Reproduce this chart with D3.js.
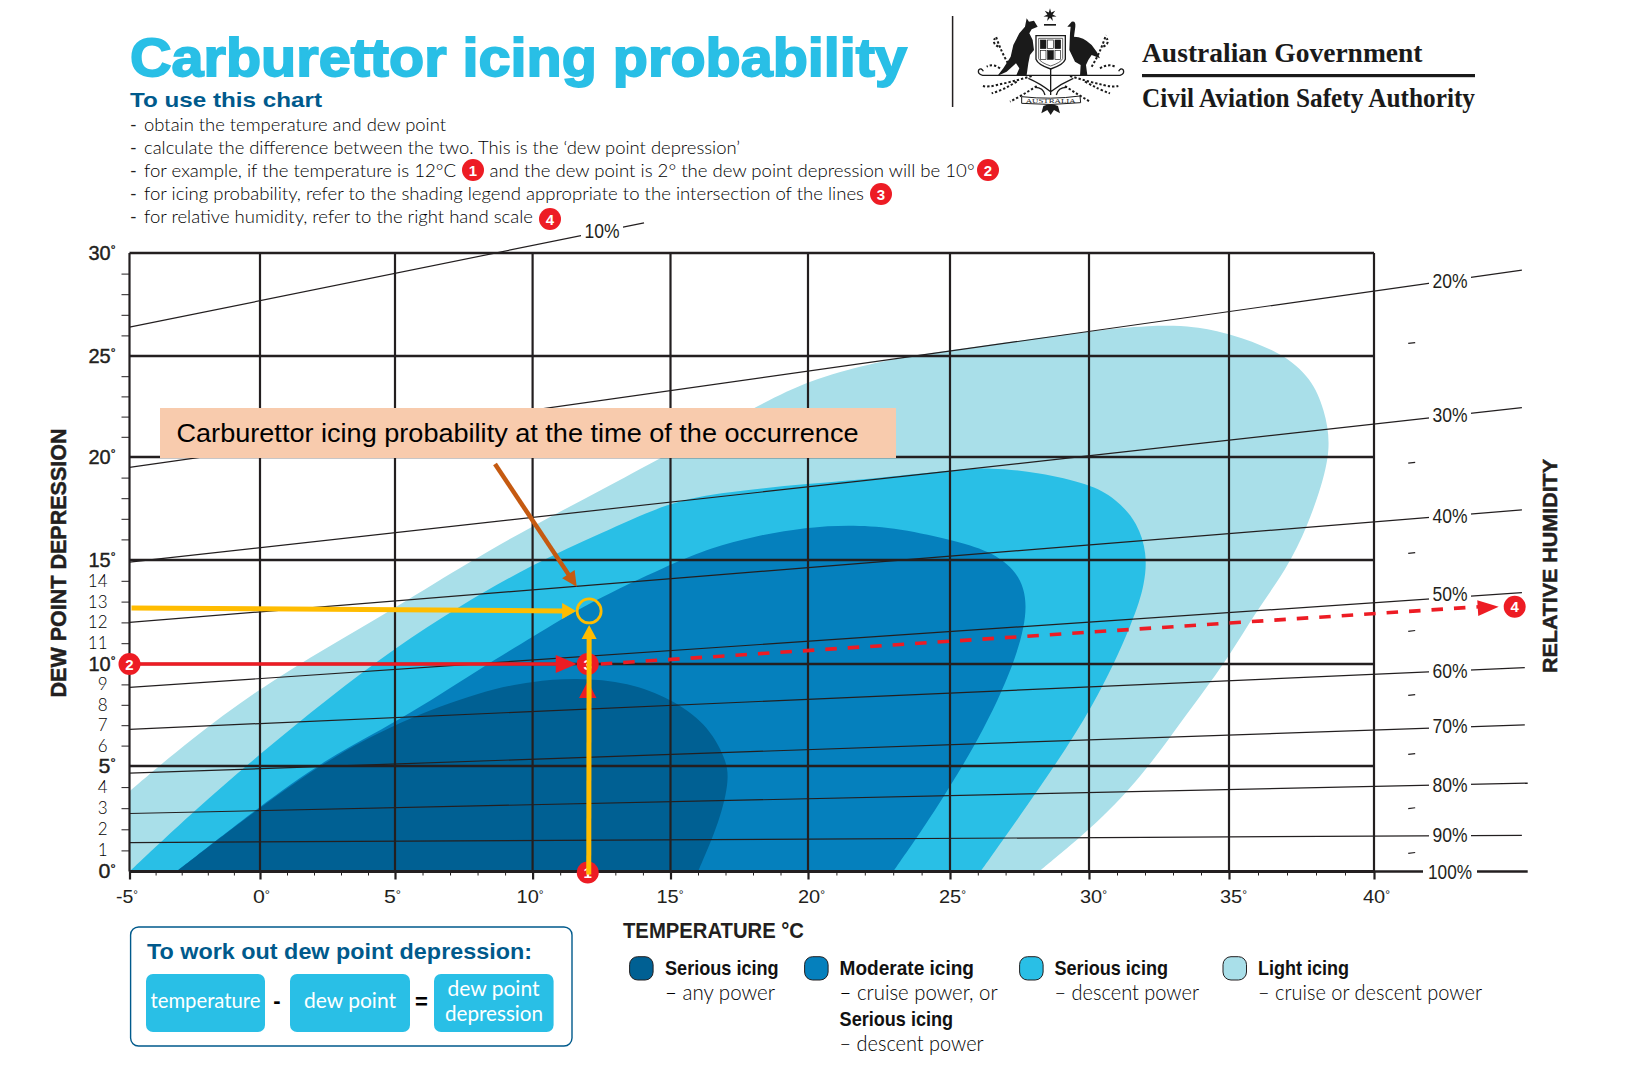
<!DOCTYPE html>
<html>
<head>
<meta charset="utf-8">
<title>Carburettor icing probability</title>
<script src="https://cdn.jsdelivr.net/npm/d3@7"></script>
<style>
  html, body { margin: 0; padding: 0; background: #fff; }
  svg { display: block; }
</style>
</head>
<body>
<div id="chart"></div>
<script>
// Grid values (the printed grid is not quite even, so the scales are piecewise)
const tempMajor = [-5, 0, 5, 10, 15, 20, 25, 30, 35, 40];
const depMajor = [0, 5, 10, 15, 20, 25, 30];
const depLabelled = [1, 2, 3, 4, 6, 7, 8, 9, 11, 12, 13, 14];
const depOnlyTicks = [16, 17, 18, 19, 21, 22, 23, 24, 26, 27, 28, 29];

// Relative humidity lines: depression at -5 deg, then where the line ends
const rhValues = [10, 20, 30, 40, 50, 60, 70, 80, 90, 100];
const rhStartDep = [26.4, 19.5, 14.9, 12.0, 8.85, 6.8, 4.66, 2.75, 1.37, 0];
const rhEndTemp = [14.04, 45.1, 45.1, 45.1, 45.1, 45.2, 45.2, 45.3, 45.1, 45.3];
const rhEndDep = [31.46, 29.17, 22.44, 17.43, 13.43, 9.82, 7.02, 4.19, 1.71, 0];

// Short marks half way between the humidity labels
const rhMinorTemp = 41.3;
const rhMinorDep = [25.63, 19.72, 15.34, 11.59, 8.48, 5.59, 3.0, 0.88];

// Icing region edges as [temperature, depression]
const lightEdge = [[-5, 3.8], [-2.7, 6.27], [0, 8.82], [2.5, 10.8], [5, 12.7], [7.82, 15], [10, 16.65], [12.5, 18.4],
  [14.7, 20], [18, 22.4], [20, 23.8], [22.3, 24.65], [23.6, 25], [27.5, 25.75], [30, 26.2], [32.2, 26.5], [33.8, 26.45],
  [35, 26.1], [36.8, 25.2], [37.85, 23.9], [38.3, 22.3], [38.5, 20.7], [38.3, 19.04], [37.7, 16.6], [37, 14.6],
  [35.9, 12.45], [35, 10.35], [34, 8.48], [33, 6.62], [31.9, 4.56], [30.4, 2.4], [28.2, 0], [28.2, 0]];
const seriousDescentEdge = [[-5, 0], [-5, 0], [-2.5, 2.9], [0, 5.6], [2.5, 8.3], [5, 10.77], [7.3, 12.76], [10, 14.8], [12.5, 16.3],
  [15, 17.85], [17, 18.3], [20, 18.7], [22.65, 19], [25, 19.35], [26.44, 19.5], [28.2, 19.25], [30, 18.7],
  [30.95, 18], [31.75, 16.8], [32.07, 15.3], [32, 13.88], [31.6, 12.1], [30.2, 7.95], [28.2, 3.9], [26.1, 0], [26.1, 0]];
const moderateEdge = [[-3.2, 0], [-3.2, 0], [0, 3.1], [2.5, 5.4], [5.1, 7.17], [8.2, 9.87], [10, 11.3], [12, 12.93], [15, 14.8],
  [16.5, 15.6], [18, 16.15], [20, 16.6], [21.4, 16.7], [22.96, 16.6], [25, 16], [26.44, 15.45], [27.45, 14.45],
  [27.85, 12.9], [27.45, 10.45], [26.3, 6.9], [24.5, 2.9], [23, 0], [23, 0]];
const seriousAnyEdge = [[-3.2, 0], [-3.2, 0], [0, 3.05], [2.5, 5.3], [5.1, 7.17], [8.2, 8.7], [10, 9.15], [11.56, 9.33],
  [13.5, 9.1], [15, 8.3], [16.3, 7.1], [17, 5.4], [17.15, 4.4], [16.8, 2.4], [16, 0], [16, 0]];

// Worked example and the occurrence marker
const exampleTemp = 12;
const exampleDep = 10;
const exampleRhEnd = [44.3, 12.75];
const occurrenceTemp = 12.05;
const occurrenceDep = 12.55;

const instructions = [
  'obtain the temperature and dew point',
  'calculate the difference between the two. This is the ‘dew point depression’',
  'for example, if the temperature is 12°C',
  'for icing probability, refer to the shading legend appropriate to the intersection of the lines',
  'for relative humidity, refer to the right hand scale'
];
const instructionTail = 'and the dew point is 2° the dew point depression will be 10°';

const legendNames = ['Serious icing', 'Moderate icing', 'Serious icing', 'Light icing'];
const legendNotes = ['– any power', '– cruise power, or', '– descent power', '– cruise or descent power'];

const width = 1628;
const height = 1080;
const colors = { pale: '#a9dfe9', serious: '#29bfe6', moderate: '#0580bd', dark: '#006093',
  ink: '#231f20', navy: '#005a8c', red: '#ed1c24', amber: '#ffbc00', brown: '#c55a11', peach: '#f8cbad' };
const lightFont = 'Lato, "Open Sans", sans-serif';
const boldFont = '"Liberation Sans", sans-serif';
const serifFont = '"Liberation Serif", serif';

const x = d3.scaleLinear().domain(tempMajor).range([129.5, 260, 395, 532.6, 670.5, 808, 950, 1089, 1229, 1374]);
const y = d3.scaleLinear().domain(depMajor).range([871.5, 766, 664, 560, 457, 356, 253]);

const svg = d3.select('#chart').append('svg').attr('width', width).attr('height', height)
  .attr('viewBox', [0, 0, width, height]);

// Text helper; len squeezes the run to the measured width of the original
function label(parent, px, py, str, o = {}) {
  const t = parent.append('text').attr('x', px).attr('y', py)
    .attr('font-family', o.font || lightFont).attr('font-size', o.size || 18)
    .attr('font-weight', o.weight || 400).attr('fill', o.fill || colors.ink)
    .attr('text-anchor', o.anchor || 'start').text(str);
  if (o.len) t.attr('textLength', o.len).attr('lengthAdjust', 'spacingAndGlyphs');
  if (o.thicken) t.attr('stroke', o.fill || colors.ink).attr('stroke-width', o.thicken);
  return t;
}

function badge(parent, px, py, digit) {
  parent.append('circle').attr('cx', px).attr('cy', py).attr('r', 11).attr('fill', colors.red);
  label(parent, px, py + 5.5, digit, { font: boldFont, size: 15, weight: 700, fill: '#fff', anchor: 'middle' });
}

// Arrow head pointing at (tx, ty), coming from angle in radians
function arrowHead(parent, tx, ty, angle, len, half, fill) {
  const pts = [[0, 0], [-len, -half], [-len, half]].map(([a, b]) => [
    tx + a * Math.cos(angle) - b * Math.sin(angle),
    ty + a * Math.sin(angle) + b * Math.cos(angle)
  ]);
  parent.append('polygon').attr('points', pts.join(' ')).attr('fill', fill);
}

// The degree sign is a small raised ring in the original
function smallDegrees(g, size, dx) {
  g.selectAll('text').each(function (d, i) {
    const t = d3.select(this);
    const s = String(d);
    const len = s === '-5' ? 22 : s.length === 1 ? 17 : 27;
    t.text(s).attr('font-family', boldFont).attr('font-size', size).attr('fill', colors.ink)
      .attr('textLength', len).attr('lengthAdjust', 'spacingAndGlyphs');
    t.append('tspan').attr('font-size', size * 0.6).attr('dy', -size * 0.28).text('°');
    if (dx) t.attr('dx', dx[i]);
  });
}

// ---- Header ----
const header = svg.append('g');
label(header, 130, 76, 'Carburettor icing probability', { font: boldFont, size: 54, weight: 700, fill: colors.serious, len: 777, thicken: 1.8 });
label(header, 130, 107, 'To use this chart', { font: boldFont, size: 21, weight: 700, fill: colors.navy, len: 192 });

const lineBase = [130.7, 154, 177, 200, 223];
const lineLen = [302, 596, 312, 720, 389];
instructions.forEach((s, i) => {
  label(header, 130, lineBase[i], '-', { size: 18 });
  label(header, 144, lineBase[i], s, { size: 18.5, weight: 300, fill: '#000', len: lineLen[i] });
});
label(header, 489.6, lineBase[2], instructionTail, { size: 18.5, weight: 300, fill: '#000', len: 485 });
badge(header, 473, 170, '1');
badge(header, 988, 170, '2');
badge(header, 881, 194, '3');
badge(header, 550, 219, '4');

// ---- Government mark, sketched in a 3x box ----
svg.append('line').attr('x1', 952.6).attr('x2', 952.6).attr('y1', 16).attr('y2', 107).attr('stroke', colors.ink).attr('stroke-width', 1.5);
const crest = svg.append('g').attr('transform', 'translate(960,0) scale(0.3333)').attr('fill', '#1a1a1a');
const starPts = d3.range(14).map(i => {
  const r = i % 2 ? 8 : 20, a = i * Math.PI / 7 - Math.PI / 2;
  return [270 + r * Math.cos(a), 45 + r * Math.sin(a)];
});
crest.append('polygon').attr('points', starPts.join(' '));
crest.append('rect').attr('x', 252).attr('y', 72).attr('width', 36).attr('height', 5);
crest.append('path').attr('d', 'M200 55 L207 65 L222 62 L233 80 L215 88 L208 100 L218 120 L222 150 L210 165 L205 190 L200 225 L210 228 H168 L178 205 L168 190 L140 215 L112 228 L130 205 L152 170 L160 135 L178 100 L195 80 Z');
crest.append('path').attr('d', 'M335 65 Q348 62 346 80 L342 110 Q370 110 395 135 Q412 155 420 175 L395 165 L385 180 L378 195 L382 225 L392 228 H360 L362 195 L345 185 L328 150 L330 100 L332 80 L322 80 Z');
crest.append('path').attr('d', 'M228 107 H316 V178 Q310 195 272 207 Q234 195 228 178 Z').attr('fill', '#fff').attr('stroke', '#1a1a1a').attr('stroke-width', 4);
crest.append('path').attr('d', 'M236 115 H308 V176 Q302 188 272 198 Q242 188 236 176 Z').attr('fill', 'none').attr('stroke', '#1a1a1a').attr('stroke-width', 2);
d3.cross([0, 1, 2], [0, 1]).forEach(([c, r]) => {
  crest.append('rect').attr('x', 241 + c * 22).attr('y', 120 + r * 32).attr('width', 17).attr('height', 26)
    .attr('fill', (c + r) % 2 ? '#fff' : '#1a1a1a').attr('stroke', '#1a1a1a').attr('stroke-width', 2);
});
crest.append('path').attr('fill', 'none').attr('stroke', '#1a1a1a').attr('stroke-width', 4)
  .attr('d', 'M68 226 Q52 222 56 210 Q64 202 70 214 M68 226 H480 Q494 222 490 210 Q482 202 476 214');
const sprays = ['M215 228 Q160 245 110 255 Q85 262 68 258', 'M330 228 Q385 245 430 255 Q455 262 475 258',
  'M150 200 Q125 160 108 110', 'M395 200 Q420 160 438 105', 'M120 205 Q100 190 80 200', 'M420 205 Q445 190 465 200',
  'M230 258 Q190 285 150 305', 'M315 258 Q355 285 390 305', 'M170 245 Q130 270 95 280', 'M375 245 Q420 270 450 280',
  'M115 140 Q95 130 105 115', 'M430 140 Q450 130 440 115'];
sprays.forEach(d => crest.append('path').attr('d', d).attr('fill', 'none').attr('stroke', '#1a1a1a')
  .attr('stroke-width', 6).attr('stroke-dasharray', '7 6'));
crest.append('path').attr('fill', 'none').attr('stroke', '#1a1a1a').attr('stroke-width', 4)
  .attr('d', 'M272 205 V285 M272 275 Q240 250 205 235 M272 275 Q305 250 340 235 M255 285 Q250 262 225 262 M289 285 Q294 262 320 262');
crest.append('path').attr('d', 'M185 290 Q272 300 360 288 L362 308 Q272 318 185 310 Z').attr('fill', '#fff').attr('stroke', '#1a1a1a').attr('stroke-width', 3);
label(crest, 272, 310, 'AUSTRALIA', { font: serifFont, size: 21, anchor: 'middle', fill: '#1a1a1a', len: 150 });
crest.append('path').attr('d', 'M250 318 Q272 308 294 318 L300 340 L282 330 L272 345 L262 330 L244 340 Z');

label(svg, 1142, 61.7, 'Australian Government', { font: serifFont, size: 28, weight: 700, len: 280.5, fill: '#1a1a1a' });
svg.append('rect').attr('x', 1142).attr('y', 74).attr('width', 333).attr('height', 3.2).attr('fill', '#1a1a1a');
label(svg, 1142, 107, 'Civil Aviation Safety Authority', { font: serifFont, size: 28, weight: 700, len: 333, fill: '#1a1a1a' });

// ---- Icing regions ----
// Basis curve irons out reading errors; a repeated end point pins the curve to the axis
const edge = d3.line().x(d => x(d[0])).y(d => y(d[1])).curve(d3.curveBasis);
const plot = svg.append('g');
// The lightest region starts part way up the left axis, so it gets a sharp corner first
plot.append('path').attr('fill', colors.pale)
  .attr('d', `M${x(-5)},${y(0)}L` + edge(lightEdge).slice(1) + 'Z');
[[seriousDescentEdge, colors.serious], [moderateEdge, colors.moderate], [seriousAnyEdge, colors.dark]].forEach(([pts, fill]) => {
  plot.append('path').attr('fill', fill).attr('d', edge(pts) + 'Z');
});

// ---- Humidity lines (white boxes make the gaps around the labels) ----
const rhLine = d3.line().x(d => x(d[0])).y(d => y(d[1]));
const rhGroup = svg.append('g');
rhValues.forEach((rh, i) => {
  rhGroup.append('path').attr('fill', 'none').attr('stroke', colors.ink).attr('stroke-width', rh === 100 ? 2.5 : 1.2)
    .attr('d', rhLine([[-5, rhStartDep[i]], [rhEndTemp[i], rhEndDep[i]]]));
});
rhMinorDep.forEach(d => {
  rhGroup.append('path').attr('fill', 'none').attr('stroke', colors.ink).attr('stroke-width', 1.2)
    .attr('d', rhLine([[rhMinorTemp - 0.12, d - 0.02], [rhMinorTemp + 0.12, d + 0.02]]));
});

// ---- Grid and axes ----
const grid = svg.append('g').attr('stroke', colors.ink).attr('fill', 'none');
tempMajor.forEach(t => grid.append('line').attr('x1', x(t)).attr('x2', x(t)).attr('y1', y(30)).attr('y2', y(0)).attr('stroke-width', 2.2));
depMajor.forEach(d => grid.append('line').attr('x1', x(-5)).attr('x2', x(40)).attr('y1', y(d)).attr('y2', y(d)).attr('stroke-width', d === 0 ? 3 : 2.4));

const styleAxis = (g, lineWidth) => {
  g.select('.domain').remove();
  g.selectAll('line').attr('stroke', colors.ink).attr('stroke-width', lineWidth);
};
const minorTemps = d3.range(-5, 41).filter(t => !tempMajor.includes(t));
const tempLabelNudge = [-3, 1, -3, -3, -1, 3, 2, 4, 4, 2];
svg.append('g').attr('transform', `translate(0,${y(0)})`)
  .call(d3.axisBottom(x).tickValues(minorTemps).tickSize(4).tickFormat(''))
  .call(styleAxis, 1);
svg.append('g').attr('transform', `translate(0,${y(0)})`)
  .call(d3.axisBottom(x).tickValues(tempMajor).tickSize(8).tickPadding(10))
  .call(styleAxis, 2.2)
  .call(smallDegrees, 19, tempLabelNudge);
svg.append('g').attr('transform', `translate(${x(-5)},0)`)
  .call(d3.axisLeft(y).tickValues(depOnlyTicks.concat(depLabelled)).tickSize(8).tickFormat(''))
  .call(styleAxis, 1);
svg.append('g').attr('transform', `translate(${x(-5)},0)`)
  .call(d3.axisLeft(y).tickValues(depLabelled).tickSize(0).tickPadding(22).tickFormat(d => d))
  .call(styleAxis, 0)
  .call(g => g.selectAll('text').attr('font-family', lightFont).attr('font-weight', 300).attr('font-size', 17).attr('fill', '#000'));
svg.append('g').attr('transform', `translate(${x(-5)},0)`)
  .call(d3.axisLeft(y).tickValues(depMajor).tickSize(0).tickPadding(14))
  .call(styleAxis, 0)
  .call(smallDegrees, 20)
  .call(g => g.selectAll('text').attr('stroke', colors.ink).attr('stroke-width', 0.4));

label(svg, 0, 0, 'DEW POINT DEPRESSION', { font: boldFont, size: 22, weight: 700, anchor: 'middle', len: 269, thicken: 0.5 })
  .attr('transform', 'translate(66,563) rotate(-90)');
label(svg, 0, 0, 'RELATIVE HUMIDITY', { font: boldFont, size: 21, weight: 700, anchor: 'middle', len: 214, thicken: 0.5 })
  .attr('transform', 'translate(1557,566) rotate(-90)');
label(svg, 623, 938, 'TEMPERATURE °C', { font: boldFont, size: 22, weight: 700, len: 181 });

// Humidity labels sit on the lines, with a white patch cutting the line
const rhLabelNudge = [0, 1, -1, 0, -3.5, 0.5, -1.5, 0, -1, 0];
rhValues.forEach((rh, i) => {
  const lx = rh === 10 ? 602 : 1450;
  const x0 = x(-5), x1 = x(rhEndTemp[i]), y0 = y(rhStartDep[i]), y1 = y(rhEndDep[i]);
  const ly = y0 + (y1 - y0) * (lx - x0) / (x1 - x0) + rhLabelNudge[i];
  const w = rh === 100 ? 54 : 42;
  svg.append('rect').attr('x', lx - w / 2).attr('y', ly - 11).attr('width', w).attr('height', 22).attr('fill', '#fff');
  label(svg, lx, ly + 7, `${rh}%`, { font: boldFont, size: 20, anchor: 'middle', len: rh === 100 ? 44 : 35 });
});

// ---- Worked example ----
const ex = svg.append('g');
const ex1 = [x(exampleTemp), y(0)];
const ex3 = [x(exampleTemp), y(exampleDep)];
ex.append('line').attr('x1', x(-5)).attr('y1', ex3[1]).attr('x2', ex3[0] - 30).attr('y2', ex3[1])
  .attr('stroke', colors.red).attr('stroke-width', 3.4);
arrowHead(ex, ex3[0] - 11, ex3[1], 0, 21, 9, colors.red);
arrowHead(ex, ex3[0], ex3[1] + 17, -Math.PI / 2, 17, 8.7, colors.red);
ex.append('line').attr('x1', ex3[0] + 13).attr('y1', ex3[1]).attr('x2', x(exampleRhEnd[0]) - 20).attr('y2', y(exampleRhEnd[1]))
  .attr('stroke', colors.red).attr('stroke-width', 3.6).attr('stroke-dasharray', '11.5 11');
const rhAngle = Math.atan2(y(exampleRhEnd[1]) - ex3[1], x(exampleRhEnd[0]) - ex3[0]);
arrowHead(ex, x(exampleRhEnd[0]), y(exampleRhEnd[1]), rhAngle, 21, 8, colors.red);
badge(ex, x(-5), ex3[1], '2');
badge(ex, ex3[0], ex3[1], '3');
badge(ex, ex1[0], ex1[1] + 1, '1');
badge(ex, x(exampleRhEnd[0]) + 16, y(exampleRhEnd[1]), '4');

// Occurrence marker
const oc = [x(occurrenceTemp), y(occurrenceDep)];
ex.append('line').attr('x1', x(-5) + 2).attr('y1', oc[1] - 3).attr('x2', oc[0] - 26).attr('y2', oc[1])
  .attr('stroke', colors.amber).attr('stroke-width', 5);
arrowHead(ex, oc[0] - 13, oc[1], 0, 14, 8, colors.amber);
ex.append('line').attr('x1', ex1[0] + 1).attr('y1', ex1[1] + 3).attr('x2', oc[0]).attr('y2', oc[1] + 26)
  .attr('stroke', colors.amber).attr('stroke-width', 5);
arrowHead(ex, oc[0], oc[1] + 14, -Math.PI / 2, 14, 7.5, colors.amber);
ex.append('circle').attr('cx', oc[0]).attr('cy', oc[1]).attr('r', 12).attr('fill', 'none')
  .attr('stroke', colors.amber).attr('stroke-width', 2.8);

// Callout
ex.append('rect').attr('x', 160).attr('y', 408).attr('width', 736).attr('height', 50).attr('fill', colors.peach);
label(ex, 176.5, 442, 'Carburettor icing probability at the time of the occurrence',
  { font: boldFont, size: 25, len: 682, fill: '#000' });
const tip = [576.7, 586.7];
const tail = [495, 464];
const tipAngle = Math.atan2(tip[1] - tail[1], tip[0] - tail[0]);
ex.append('line').attr('x1', tail[0]).attr('y1', tail[1]).attr('x2', tip[0] - 10 * Math.cos(tipAngle)).attr('y2', tip[1] - 10 * Math.sin(tipAngle))
  .attr('stroke', colors.brown).attr('stroke-width', 4.5);
arrowHead(ex, tip[0], tip[1], tipAngle, 15, 7.5, colors.brown);

// ---- Dew point depression box ----
const box = svg.append('g');
box.append('rect').attr('x', 130.6).attr('y', 927).attr('width', 441.4).attr('height', 119).attr('rx', 8)
  .attr('fill', '#fff').attr('stroke', colors.navy).attr('stroke-width', 1.4);
label(box, 147, 959, 'To work out dew point depression:', { font: boldFont, size: 22, weight: 700, fill: colors.navy, len: 385 });
[[146, 119], [290, 120], [434, 119.6]].forEach(([bx, bw]) => {
  box.append('rect').attr('x', bx).attr('y', 974).attr('width', bw).attr('height', 58).attr('rx', 7).attr('fill', colors.serious);
});
label(box, 205.5, 1008, 'temperature', { size: 21, fill: '#fff', anchor: 'middle', len: 110 });
label(box, 350, 1008, 'dew point', { size: 21, fill: '#fff', anchor: 'middle', len: 92 });
label(box, 493.5, 996, 'dew point', { size: 21, fill: '#fff', anchor: 'middle', len: 92 });
label(box, 494, 1020.7, 'depression', { size: 21, fill: '#fff', anchor: 'middle', len: 98 });
label(box, 277, 1008, '-', { font: boldFont, size: 22, weight: 700, fill: '#000', anchor: 'middle' });
label(box, 421.5, 1009, '=', { font: boldFont, size: 22, weight: 700, fill: '#000', anchor: 'middle' });

// ---- Legend ----
const legend = svg.append('g');
const swatchX = [629.6, 804.6, 1019.6, 1223];
const swatchFill = [colors.dark, colors.moderate, colors.serious, colors.pale];
const legendTextX = [665, 839.6, 1054.5, 1258];
const nameLen = [113.6, 134.4, 113.5, 91];
const noteLen = [110, 158, 144.5, 224];
legendNames.forEach((name, i) => {
  legend.append('rect').attr('x', swatchX[i]).attr('y', 956.7).attr('width', 23.5).attr('height', 23.3).attr('rx', 8)
    .attr('fill', swatchFill[i]).attr('stroke', colors.ink).attr('stroke-width', 1);
  label(legend, legendTextX[i], 975, name, { font: boldFont, size: 21, weight: 700, len: nameLen[i], fill: '#111' });
  label(legend, legendTextX[i], 1000, legendNotes[i], { size: 21, weight: 300, len: noteLen[i], fill: '#000' });
});
label(legend, legendTextX[1], 1026, 'Serious icing', { font: boldFont, size: 21, weight: 700, len: 113.5, fill: '#111' });
label(legend, legendTextX[1], 1050.7, '– descent power', { size: 21, weight: 300, len: 144, fill: '#000' });
</script>
</body>
</html>
